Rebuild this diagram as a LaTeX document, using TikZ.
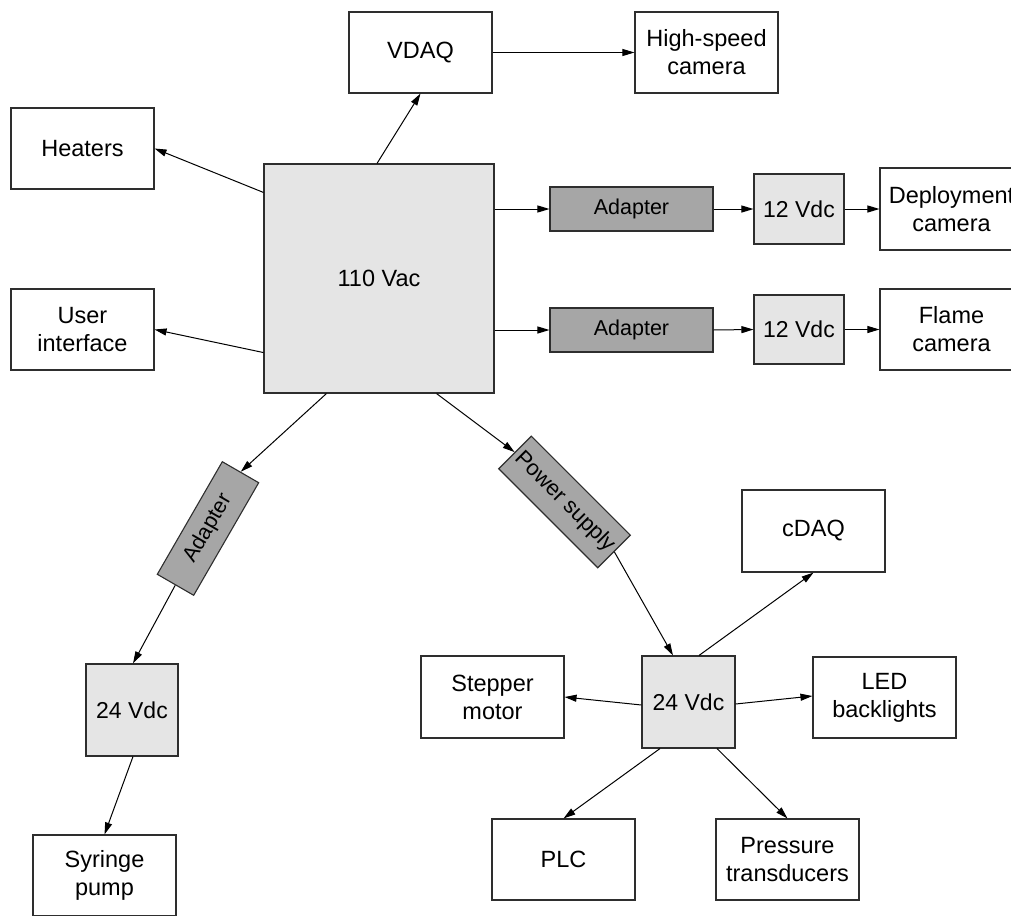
\documentclass[tikz,border=0pt]{standalone}
\usepackage{fontspec}
\setmainfont{Liberation Sans}
\usetikzlibrary{arrows.meta}
\definecolor{bordercol}{HTML}{2E2E2E}
\definecolor{lightfill}{HTML}{E5E5E5}
\definecolor{darkfill}{HTML}{A6A6A6}
\tikzset{
  box/.style={draw=bordercol, line width=1.1pt, inner sep=0pt, align=center,
              font=\fontsize{23.5}{28}\selectfont},
  wbox/.style={box, fill=white, minimum width=143pt, minimum height=81pt},
  vbox/.style={box, fill=lightfill, font=\fontsize{23}{28}\selectfont},
  dbox/.style={box, fill=darkfill, font=\fontsize{21.5}{26}\selectfont},
  arr/.style={draw=black, line width=1pt, -{Triangle[length=12pt,width=7pt]}}
}
\begin{document}
\begin{tikzpicture}[x=1pt,y=-1pt]
\useasboundingbox (0,0) rectangle (1011,915);
\clip (0,0) rectangle (1011,915);
% top row
\node[wbox] (vdaq) at (420.5,52.5) {VDAQ};
\node[wbox] (hsc) at (706.5,52.5) {High-speed\\camera};
\node[wbox] (heaters) at (82.5,148.5) {Heaters};
\node[wbox] (ui) at (82.5,329.5) {User\\interface};
\node[box, fill=lightfill, minimum width=230pt, minimum height=229pt] (vac) at (379,278.5) {110 Vac};
% right branches
\node[dbox, minimum width=163pt, minimum height=44pt] (ad1) at (631.5,209) {Adapter};
\node[vbox, minimum width=90pt, minimum height=70pt] (va) at (799,209) {12 Vdc};
\node[wbox, minimum height=82pt] (dep) at (951.5,209) {Deployment\\camera};
\node[dbox, minimum width=163pt, minimum height=44pt] (ad2) at (631.5,330) {Adapter};
\node[vbox, minimum width=90pt, minimum height=69pt] (vb) at (799,329.5) {12 Vdc};
\node[wbox] (flame) at (951.5,329.5) {Flame\\camera};
% left-down branch
\node[dbox, minimum width=130pt, minimum height=42pt, rotate=60] (ad3) at (208,528.5) {Adapter};
\node[vbox, minimum width=92pt, minimum height=92pt] (vc) at (132,710) {24 Vdc};
\node[wbox] (syr) at (104.5,875.5) {Syringe\\pump};
% right-down branch
\node[dbox, minimum width=140pt, minimum height=46pt, rotate=-45, font=\fontsize{22}{26}\selectfont] (ps) at (564.5,502) {Power supply};
\node[vbox, minimum width=93pt, minimum height=92pt] (vd) at (688.5,702) {24 Vdc};
\node[wbox, minimum height=82pt] (cdaq) at (813.5,531) {cDAQ};
\node[wbox, minimum height=82pt] (step) at (492.5,697) {Stepper\\motor};
\node[wbox] (led) at (884.5,697.5) {LED\\backlights};
\node[wbox] (plc) at (563.5,859.5) {PLC};
\node[wbox] (pt) at (787.5,859.5) {Pressure\\transducers};
% connectors
\draw[arr] ([xshift=-2pt]vac.north) -- (vdaq.south);
\draw[arr] (vdaq.east) -- (hsc.west);
\draw[arr] ([yshift=-29pt]vac.north west) -- (heaters.east);
\draw[arr] ([yshift=41pt]vac.south west) -- (ui.east);
\draw[arr] (vac.east |- ad1.west) -- (ad1.west);
\draw[arr] (ad1.east) -- (va.west);
\draw[arr] (va.east) -- (dep.west);
\draw[arr] (vac.east |- ad2.west) -- (ad2.west);
\draw[arr] (ad2.east) -- (vb.west);
\draw[arr] (vb.east) -- (flame.west);
\draw[arr] ([xshift=63pt]vac.south west) -- (ad3.east);
\draw[arr] (ad3.west) -- ([xshift=1pt]vc.north);
\draw[arr] ([xshift=1pt]vc.south) -- (syr.north);
\draw[arr] ([xshift=-58pt]vac.south east) -- (ps.west);
\draw[arr] (ps.east) -- ([xshift=-15.5pt]vd.north);
\draw[arr] ([xshift=10.5pt]vd.north) -- (cdaq.south);
\draw[arr] ([yshift=-3pt]vd.west) -- (step.east);
\draw[arr] ([yshift=-2pt]vd.east) -- ([yshift=1.5pt]led.west);
\draw[arr] ([xshift=-28.5pt]vd.south) -- (plc.north);
\draw[arr] ([xshift=28.5pt]vd.south) -- (pt.north);
\end{tikzpicture}
\end{document}
